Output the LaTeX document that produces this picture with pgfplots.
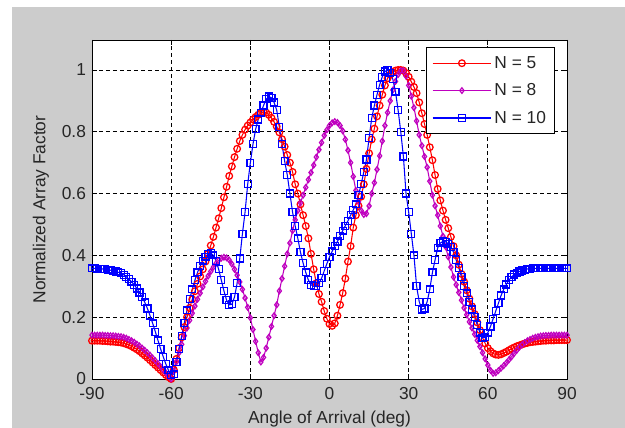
\documentclass[border=0pt]{standalone}
\usepackage{pgfplots}
\usepackage{pgfplotstable}
\pgfplotsset{compat=1.18}
\usepackage{fontspec}
\setmainfont{Liberation Sans}
\definecolor{bggray}{RGB}{204,204,204}
\definecolor{mred}{RGB}{255,0,0}
\definecolor{mmag}{RGB}{191,0,191}
\definecolor{mblue}{RGB}{0,0,255}
\pgfplotstableread{
a n5 n8 n10
-90 0.124 0.142 0.358
-89 0.124 0.142 0.358
-88 0.124 0.142 0.357
-87 0.124 0.142 0.357
-86 0.123 0.142 0.356
-85 0.123 0.141 0.355
-84 0.122 0.141 0.354
-83 0.121 0.140 0.352
-82 0.121 0.140 0.350
-81 0.120 0.139 0.348
-80 0.119 0.138 0.345
-79 0.118 0.137 0.342
-78 0.116 0.135 0.337
-77 0.113 0.132 0.331
-76 0.110 0.128 0.323
-75 0.106 0.124 0.315
-74 0.101 0.119 0.305
-73 0.096 0.113 0.293
-72 0.090 0.107 0.280
-71 0.083 0.100 0.265
-70 0.076 0.093 0.248
-69 0.069 0.085 0.228
-68 0.061 0.077 0.205
-67 0.053 0.068 0.180
-66 0.045 0.059 0.153
-65 0.037 0.050 0.125
-64 0.029 0.040 0.097
-63 0.021 0.030 0.072
-62 0.013 0.020 0.048
-61 0.006 0.010 0.028
-60 0.000 0.000 0.012
-59 0.030 0.025 0.015
-58 0.065 0.055 0.055
-57 0.100 0.085 0.098
-56 0.135 0.112 0.140
-55 0.168 0.140 0.182
-54 0.200 0.165 0.222
-53 0.230 0.190 0.258
-52 0.258 0.213 0.290
-51 0.284 0.236 0.320
-50 0.308 0.258 0.345
-49 0.332 0.278 0.366
-48 0.355 0.298 0.383
-47 0.380 0.316 0.396
-46 0.405 0.333 0.405
-45 0.432 0.348 0.407
-44 0.460 0.362 0.400
-43 0.490 0.374 0.382
-42 0.520 0.384 0.355
-41 0.553 0.391 0.320
-40 0.588 0.394 0.285
-39 0.622 0.392 0.255
-38 0.657 0.385 0.240
-37 0.688 0.372 0.242
-36 0.718 0.355 0.265
-35 0.745 0.336 0.310
-34 0.770 0.314 0.390
-33 0.790 0.290 0.470
-32 0.807 0.262 0.540
-31 0.820 0.232 0.630
-30 0.830 0.198 0.700
-29 0.840 0.160 0.760
-28 0.848 0.122 0.808
-27 0.855 0.085 0.840
-26 0.861 0.055 0.862
-25 0.864 0.070 0.885
-24 0.862 0.100 0.905
-23 0.855 0.135 0.914
-22 0.845 0.170 0.910
-21 0.832 0.205 0.895
-20 0.817 0.240 0.870
-19 0.798 0.285 0.815
-18 0.776 0.325 0.760
-17 0.752 0.365 0.705
-16 0.725 0.405 0.660
-15 0.700 0.440 0.600
-14 0.670 0.480 0.540
-13 0.630 0.515 0.495
-12 0.600 0.545 0.455
-11 0.565 0.570 0.410
-10 0.530 0.595 0.375
-9 0.495 0.620 0.345
-8 0.455 0.645 0.320
-7 0.405 0.668 0.305
-6 0.355 0.692 0.300
-5 0.310 0.718 0.302
-4 0.275 0.742 0.310
-3 0.250 0.765 0.326
-2 0.220 0.788 0.350
-1 0.195 0.806 0.373
0 0.178 0.820 0.395
1 0.172 0.829 0.413
2 0.180 0.833 0.430
3 0.205 0.830 0.445
4 0.240 0.820 0.462
5 0.278 0.803 0.480
6 0.325 0.775 0.496
7 0.380 0.740 0.512
8 0.430 0.700 0.530
9 0.490 0.655 0.547
10 0.530 0.610 0.565
11 0.560 0.573 0.595
12 0.590 0.545 0.630
13 0.630 0.532 0.670
14 0.680 0.535 0.710
15 0.730 0.560 0.780
16 0.775 0.600 0.844
17 0.810 0.635 0.885
18 0.850 0.678 0.920
19 0.885 0.722 0.952
20 0.920 0.770 0.978
21 0.950 0.820 0.995
22 0.973 0.862 1.000
23 0.985 0.900 0.990
24 0.993 0.935 0.970
25 0.998 0.963 0.930
26 1.000 0.985 0.870
27 1.000 0.998 0.800
28 0.998 0.998 0.720
29 0.990 0.980 0.600
30 0.978 0.950 0.540
31 0.962 0.915 0.470
32 0.945 0.878 0.400
33 0.925 0.835 0.300
34 0.895 0.790 0.250
35 0.860 0.755 0.225
36 0.825 0.720 0.228
37 0.790 0.685 0.250
38 0.750 0.640 0.290
39 0.708 0.595 0.345
40 0.660 0.560 0.385
41 0.615 0.530 0.425
42 0.578 0.495 0.440
43 0.545 0.462 0.445
44 0.515 0.428 0.444
45 0.488 0.395 0.438
46 0.460 0.362 0.428
47 0.430 0.330 0.410
48 0.400 0.305 0.385
49 0.370 0.280 0.360
50 0.340 0.255 0.330
51 0.315 0.230 0.302
52 0.287 0.208 0.277
53 0.260 0.185 0.250
54 0.235 0.165 0.225
55 0.210 0.145 0.200
56 0.183 0.125 0.175
57 0.158 0.105 0.150
58 0.133 0.085 0.133
59 0.115 0.065 0.135
60 0.100 0.045 0.150
61 0.090 0.028 0.170
62 0.083 0.018 0.195
63 0.079 0.020 0.220
64 0.078 0.027 0.245
65 0.080 0.035 0.270
66 0.084 0.043 0.290
67 0.088 0.052 0.306
68 0.093 0.062 0.320
69 0.098 0.072 0.330
70 0.102 0.083 0.338
71 0.106 0.093 0.344
72 0.109 0.103 0.348
73 0.112 0.111 0.351
74 0.115 0.118 0.354
75 0.117 0.124 0.356
76 0.119 0.128 0.357
77 0.120 0.132 0.358
78 0.121 0.135 0.358
79 0.122 0.137 0.358
80 0.123 0.139 0.358
81 0.124 0.140 0.358
82 0.124 0.141 0.358
83 0.125 0.141 0.358
84 0.125 0.142 0.358
85 0.125 0.142 0.358
86 0.126 0.142 0.358
87 0.126 0.142 0.358
88 0.126 0.142 0.358
89 0.126 0.142 0.358
90 0.126 0.142 0.358
}\datatable
\begin{document}
\begin{tikzpicture}
\fill[white] (0,0) rectangle (468.75pt,321pt);
\fill[bggray] (9pt,0) rectangle (468.75pt,315.75pt);
\useasboundingbox (0,0) rectangle (468.75pt,321pt);
\begin{axis}[
  at={(69pt,36.75pt)}, anchor=south west,
  width=356.25pt, height=254.25pt, scale only axis,
  xmin=-90, xmax=90, ymin=0, ymax=1.097,
  axis background/.style={fill=white},
  axis line style={black, line width=0.7pt},
  xtick={-90,-60,-30,0,30,60,90},
  xticklabels={-90,-60,-30,0,30,60,90},
  ytick={0,0.2,0.4,0.6,0.8,1},
  yticklabels={0,0.2,0.4,0.6,0.8,1},
  tick align=inside, major tick length=3.5pt,
  tick style={black, line width=0.6pt},
  grid=major,
  major grid style={black, line width=0.6pt, dash pattern=on 3pt off 2.25pt},
  ticklabel style={font=\fontsize{13}{15}\selectfont, text=black!85},
  xticklabel style={yshift=-2.5pt},
  yticklabel style={xshift=-1pt},
  xlabel={Angle of Arrival (deg)},
  ylabel={Normalized Array Factor},
  label style={font=\fontsize{13}{15}\selectfont, text=black!85},
  xlabel style={at={(axis description cs:0.5,0)}, anchor=base, yshift=-33.5pt},
  ylabel style={at={(axis description cs:0,0.5)}, anchor=base, yshift=35pt},
  legend style={at={(0.975,0.979)}, anchor=north east, draw=black, fill=white,
    line width=0.7pt, font=\fontsize{13}{15}\selectfont, text=black!85,
    row sep=6pt, inner sep=4.5pt},
  legend cell align=left,
  legend image code/.code={\draw[mark repeat=2,mark phase=2] plot coordinates {(0pt,0pt) (22pt,0pt) (44pt,0pt)};},
]
\addplot[color=mred, line width=0.8pt, mark=o, mark size=2.5pt, mark options={solid, line width=0.95pt}] table[x=a,y=n5] {\datatable};
\addlegendentry{N = 5}
\addplot[color=mmag, line width=0.8pt, mark=diamond, mark size=2.1pt, mark options={solid, line width=0.9pt}] table[x=a,y=n8] {\datatable};
\addlegendentry{N = 8}
\addplot[color=mblue, line width=0.8pt, mark=square, mark size=2.6pt, mark options={solid, line width=0.95pt}] table[x=a,y=n10] {\datatable};
\addlegendentry{N = 10}
\end{axis}
\end{tikzpicture}
\end{document}
